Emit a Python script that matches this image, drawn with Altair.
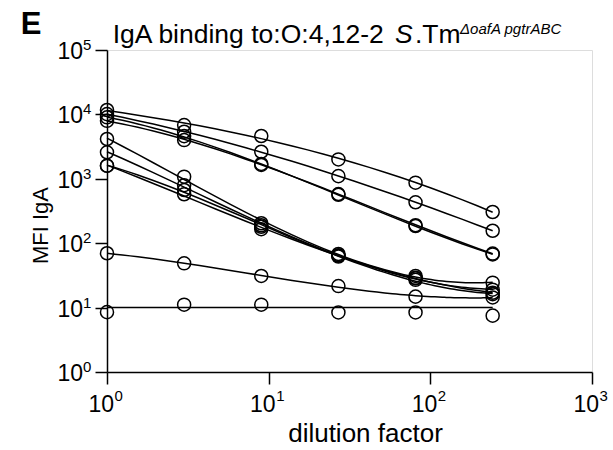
import math
import altair as alt
import pandas as pd

# ---- data ----
dilution = [1, 3, 9, 27, 81, 243]

s1 = [11700, 6840, 4620, 2000, 870, 305]
s2 = [10100, 5380, 2630, 1100, 432, 156]
s3 = [9000, 4600, 1640, 565, 185, 67]
s4 = [7950, 3990, 1700, 580, 190, 69]
s5 = [4150, 1080, 204, 68, 31, 24.4]
s6 = [2580, 795, 190, 65, 28.5, 19]
s7 = [1590, 670, 180, 62, 27, 16.2]
s8 = [1600, 575, 165, 64, 29, 17]
s9 = [69.8, 48.7, 31, 21.6, 14.8, 14.4]
s10 = [8.5, 11.1, 11.1, 8.4, 8.4, 7.5]   # flat series
flat_fit_level = [10.0]

series_names = ["S1", "S2", "S3", "S4", "S5", "S6", "S7", "S8", "S9", "S10"]
series_values = [s1, s2, s3, s4, s5, s6, s7, s8, s9, s10]
flat_series = "S10"

x_ticks = [1, 10, 100, 1000]
x_exponents = ["0", "1", "2", "3"]
y_ticks = [1, 10, 100, 1000, 10000, 100000]
y_exponents = ["0", "1", "2", "3", "4", "5"]
tick_base = "10"

panel_letter = ["E"]
title_main = ["IgA binding to:O:4,12-2"]
title_italic = ["S"]
title_tm = [".Tm"]
title_sup = ["\u0394oafA pgtrABC"]
x_title = "dilution factor"
y_title = "MFI IgA"

rows = []
for name, vals in zip(series_names, series_values):
    for d, v in zip(dilution, vals):
        rows.append({"series": name, "dilution": d, "mfi": v})
df = pd.DataFrame(rows)

FONT = "Liberation Sans"
W, H = 485, 322

xscale = alt.Scale(type="log", domain=[1, 1000], nice=False)
yscale = alt.Scale(type="log", domain=[1, 100000], nice=False)

xaxis = alt.Axis(
    values=x_ticks, labels=False, title=x_title, grid=False,
    tickSize=12, tickWidth=1.5, tickColor="black", domainWidth=1.5, domainColor="black",
    titleFont=FONT, titleFontSize=26, titleFontWeight="normal", titleColor="black",
    titleX=258, titleY=69, titleAlign="center", titleBaseline="alphabetic",
)
yaxis = alt.Axis(
    values=y_ticks, labels=False, title=y_title, grid=False,
    tickSize=12, tickWidth=1.5, tickColor="black", domainWidth=1.5, domainColor="black",
    titleFont=FONT, titleFontSize=22, titleFontWeight="normal", titleColor="black",
    titleAngle=270, titleX=-67, titleY=175, titleAlign="center", titleBaseline="middle",
)

base = alt.Chart(df)

points = base.mark_point(
    shape="circle", filled=False, size=170, color="black", strokeWidth=1.5, opacity=1
).encode(
    x=alt.X("dilution:Q", scale=xscale, axis=xaxis),
    y=alt.Y("mfi:Q", scale=yscale, axis=yaxis),
)

fits = (
    base.transform_filter(alt.datum.series != flat_series)
    .transform_calculate(lx="log(datum.dilution)/LN10", ly="log(datum.mfi)/LN10")
    .transform_regression("lx", "ly", method="poly", order=3, groupby=["series"],
                          extent=[0, math.log10(max(dilution))])
    .transform_calculate(fx="pow(10, datum.lx)", fy="pow(10, datum.ly)")
    .mark_line(color="black", strokeWidth=1.5)
    .encode(x=alt.X("fx:Q", scale=xscale, axis=xaxis),
            y=alt.Y("fy:Q", scale=yscale, axis=yaxis),
            detail="series:N")
)

flat_df = pd.DataFrame({"x": [min(dilution)], "x2": [max(dilution)], "y": flat_fit_level})
flat = alt.Chart(flat_df).mark_rule(color="black", strokeWidth=1.5).encode(
    x=alt.X("x:Q", scale=xscale, axis=xaxis), x2="x2:Q",
    y=alt.Y("y:Q", scale=yscale, axis=yaxis),
)

# ---- tick labels as 10 with superscript exponent ----
xt = pd.DataFrame({"v": x_ticks, "e": x_exponents, "b": [tick_base] * len(x_ticks)})
yt = pd.DataFrame({"v": y_ticks, "e": y_exponents, "b": [tick_base] * len(y_ticks)})

x_base_lbl = alt.Chart(xt).mark_text(
    font=FONT, fontSize=23, align="right", baseline="alphabetic", color="black", dx=7
).encode(x=alt.X("v:Q", scale=xscale), y=alt.value(H + 40), text="b:N")
x_exp_lbl = alt.Chart(xt).mark_text(
    font=FONT, fontSize=15, align="left", baseline="alphabetic", color="black", dx=7.5
).encode(x=alt.X("v:Q", scale=xscale), y=alt.value(H + 29), text="e:N")

y_base_lbl = alt.Chart(yt).mark_text(
    font=FONT, fontSize=23, align="right", baseline="alphabetic", color="black", dy=9
).encode(x=alt.value(-24), y=alt.Y("v:Q", scale=yscale), text="b:N")
y_exp_lbl = alt.Chart(yt).mark_text(
    font=FONT, fontSize=15, align="left", baseline="alphabetic", color="black", dy=0
).encode(x=alt.value(-24), y=alt.Y("v:Q", scale=yscale), text="e:N")


def label(texts, x, y, size, style="normal", weight="normal"):
    return alt.Chart(pd.DataFrame({"t": texts})).mark_text(
        font=FONT, fontSize=size, fontStyle=style, fontWeight=weight,
        align="left", baseline="alphabetic", color="black",
    ).encode(x=alt.value(x), y=alt.value(y), text="t:N")


letter = label(panel_letter, -86.3, -15.7, 31, weight="bold")
t1 = label(title_main, 5.7, -7.3, 26.5)
t2 = label(title_italic, 288, -7.3, 26.5, style="italic")
t3 = label(title_tm, 308, -7.3, 26.5)
t4 = label(title_sup, 353, -16.5, 15, style="italic")

chart = alt.layer(
    fits, flat, points, x_base_lbl, x_exp_lbl, y_base_lbl, y_exp_lbl,
    letter, t1, t2, t3, t4
).properties(
    width=W, height=H,
    autosize=alt.AutoSizeParams(type="none"),
    padding={"left": 107, "top": 50, "right": 21, "bottom": 78},
).configure_view(stroke=None).configure(background="white")

chart.save("out.html", embed_options={"renderer": "svg", "actions": False})
